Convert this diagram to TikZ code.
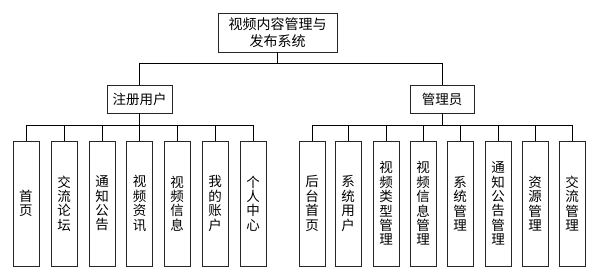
\documentclass[tikz,border=0pt]{standalone}
\usepackage{fontspec}
\setmainfont{Noto Sans CJK SC}
\begin{document}
\begin{tikzpicture}[x=1pt,y=-1pt,
  box/.style={draw=black!85, line width=0.9pt, inner sep=0pt, align=center, font=\fontsize{13.5}{14.4}\selectfont},
  leaf/.style={box, minimum width=26pt, minimum height=125pt},
  link/.style={draw=black, line width=0.9pt}]
\useasboundingbox (0,0) rectangle (610,274);
\node[box, minimum width=119pt, minimum height=39pt, font=\fontsize{14}{17}\selectfont] (top) at (277.5,32.5) {视频内容管理与\\发布系统};
\node[box, minimum width=65pt, minimum height=28pt] (reg) at (139.5,99) {注册用户};
\node[box, minimum width=64pt, minimum height=28pt] (adm) at (442,99) {管理员};
\draw[link] (top.south) -- ++(0,11) -| (reg.north);
\draw[link] (top.south) -- ++(0,11) -| (adm.north);
\foreach \i/\x/\t in {1/26/首\\页, 2/64/交\\流\\论\\坛, 3/102/通\\知\\公\\告, 4/139.5/视\\频\\资\\讯, 5/177/视\\频\\信\\息, 6/215/我\\的\\账\\户, 7/253/个\\人\\中\\心}{
  \node[leaf] (l\i) at (\x,203.5) {\t};
  \draw[link] (reg.south) -- ++(0,12) -| (l\i.north);
}
\foreach \i/\x/\t in {1/312/后\\台\\首\\页, 2/348/系\\统\\用\\户, 3/386/视\\频\\类\\型\\管\\理, 4/423/视\\频\\信\\息\\管\\理, 5/460/系\\统\\管\\理, 6/498/通\\知\\公\\告\\管\\理, 7/535/资\\源\\管\\理, 8/572/交\\流\\管\\理}{
  \node[leaf] (r\i) at (\x,203.5) {\t};
  \draw[link] (adm.south) -- ++(0,12) -| (r\i.north);
}
\end{tikzpicture}
\end{document}
